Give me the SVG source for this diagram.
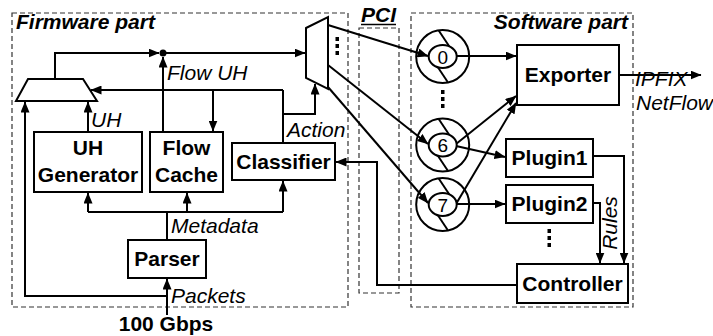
<svg xmlns="http://www.w3.org/2000/svg" xmlns:xlink="http://www.w3.org/1999/xlink" width="713" height="336" viewBox="0 0 713 336">
  <style>
    .zone { fill: none; stroke: #333; stroke-width: 1.2; stroke-dasharray: 5 3; }
    .box { fill: #fff; stroke: #000; stroke-width: 2; }
    .wire { fill: none; stroke: #000; stroke-width: 2; }
    .arr { marker-end: url(#head); }
    .b { font-family: "Liberation Sans", Arial, sans-serif; font-size: 21px; font-weight: bold; fill: #000; }
    .bi { font-family: "Liberation Sans", Arial, sans-serif; font-size: 21px; font-weight: bold; font-style: italic; fill: #000; }
    .i { font-family: "Liberation Sans", Arial, sans-serif; font-size: 21px; font-style: italic; fill: #000; }
    .num { font-family: "Liberation Sans", Arial, sans-serif; font-size: 19px; fill: #000; text-anchor: middle; }
    .mid { text-anchor: middle; }
    .dot { fill: #000; }
  </style>
  <defs>
    <marker id="head" markerUnits="userSpaceOnUse" markerWidth="11" markerHeight="9" refX="10.5" refY="4.5" orient="auto">
      <path d="M0,0 L11,4.5 L0,9 z" fill="#000"/>
    </marker>
    <!-- ring buffer symbol: outer ring, inner slot, two divider strokes -->
    <g id="ring">
      <circle cx="0" cy="0" r="26.5" fill="none" stroke="#000" stroke-width="2"/>
      <line x1="-4" y1="-26" x2="7" y2="-9.5" stroke="#000" stroke-width="2"/>
      <line x1="-6" y1="9" x2="5" y2="25.5" stroke="#000" stroke-width="2"/>
      <ellipse cx="0" cy="0" rx="14" ry="11.5" fill="#fff" stroke="#000" stroke-width="2"/>
    </g>
  </defs>

  <rect width="713" height="336" fill="#fff"/>

  <!-- zones -->
  <g id="zones">
    <rect class="zone" x="12" y="13" width="336" height="294"/>
    <text class="bi" x="16" y="29">Firmware part</text>
    <rect class="zone" x="359" y="28" width="40" height="265"/>
    <text class="bi" x="361" y="22">PCI</text>
    <line x1="361" y1="24.5" x2="396" y2="24.5" stroke="#000" stroke-width="1.5"/>
    <rect class="zone" x="411" y="13" width="222" height="294"/>
    <text class="bi" x="628" y="29" text-anchor="end">Software part</text>
  </g>

  <!-- connectors -->
  <g id="connectors">
    <!-- input packets -->
    <path class="wire arr" d="M167,315 V279"/>
    <path class="wire arr" d="M167,296 H25 V102"/>
    <!-- metadata fan-out -->
    <path class="wire" d="M167,240 V212 M88,212 H283"/>
    <path class="wire arr" d="M88,212 V193"/>
    <path class="wire arr" d="M187,212 V193"/>
    <path class="wire arr" d="M283,212 V181"/>
    <!-- UH into left selector -->
    <path class="wire arr" d="M88,132 V102"/>
    <!-- action -->
    <path class="wire" d="M283,143 V90"/>
    <path class="wire arr" d="M283,90 H91"/>
    <path class="wire arr" d="M213,90 V131"/>
    <path class="wire arr" d="M283,114 H315 V84"/>
    <!-- flow UH / selector output -->
    <path class="wire arr" d="M163,132 V57"/>
    <path class="wire arr" d="M55,79 V53 H159"/>
    <path class="wire arr" d="M163,53 H305"/>
    <circle class="dot" cx="163" cy="53" r="3.5"/>
    <!-- DMA channels over PCI -->
    <path class="wire arr" d="M328,25 L428,56"/>
    <path class="wire arr" d="M328,65 L428,144"/>
    <path class="wire arr" d="M328,87 L428,203"/>
    <!-- software side -->
    <path class="wire arr" d="M457,56 H516"/>
    <path class="wire arr" d="M456,144 L516,96"/>
    <path class="wire arr" d="M456,204 L516,103"/>
    <path class="wire arr" d="M456,146 L505,157"/>
    <path class="wire arr" d="M457,204 H505"/>
    <path class="wire arr" d="M619,75 H701"/>
    <path class="wire arr" d="M593,156 H624 V263"/>
    <path class="wire arr" d="M593,203 H600 V263"/>
    <path class="wire arr" d="M517,285 H377 V162 H336"/>
  </g>

  <!-- firmware nodes -->
  <g id="uh-mux">
    <polygon class="box" points="28,79 83,79 97,101 16,101"/>
  </g>
  <g id="uh-generator">
    <rect class="box" x="34" y="132" width="108" height="60"/>
    <text class="b mid" x="88" y="155">UH</text>
    <text class="b mid" x="88" y="182">Generator</text>
  </g>
  <g id="flow-cache">
    <rect class="box" x="150" y="132" width="73" height="60"/>
    <text class="b mid" x="186.5" y="155">Flow</text>
    <text class="b mid" x="186.5" y="182">Cache</text>
  </g>
  <g id="classifier">
    <rect class="box" x="232" y="143" width="103" height="37"/>
    <text class="b mid" x="283.5" y="169">Classifier</text>
  </g>
  <g id="parser">
    <rect class="box" x="128" y="240" width="78" height="38"/>
    <text class="b mid" x="167" y="266">Parser</text>
  </g>
  <g id="channel-demux">
    <polygon class="box" points="306,28 328,17 328,89 306,78"/>
    <rect class="dot" x="335.5" y="37" width="3.5" height="4"/>
    <rect class="dot" x="335.5" y="44" width="3.5" height="4"/>
    <rect class="dot" x="335.5" y="51" width="3.5" height="4"/>
  </g>

  <!-- DMA ring buffers -->
  <g id="ring-0">
    <use xlink:href="#ring" x="442.7" y="56.5"/>
    <text class="num" x="442.7" y="63.5">0</text>
  </g>
  <g id="ring-gap">
    <rect class="dot" x="441" y="90" width="3.5" height="4"/>
    <rect class="dot" x="441" y="97" width="3.5" height="4"/>
    <rect class="dot" x="441" y="104" width="3.5" height="4"/>
  </g>
  <g id="ring-6">
    <use xlink:href="#ring" x="442.7" y="145"/>
    <text class="num" x="442.7" y="152">6</text>
  </g>
  <g id="ring-7">
    <use xlink:href="#ring" x="442.7" y="204.5"/>
    <text class="num" x="442.7" y="211.5">7</text>
  </g>

  <!-- software nodes -->
  <g id="exporter">
    <rect class="box" x="517" y="45" width="102" height="60"/>
    <text class="b mid" x="568" y="82">Exporter</text>
  </g>
  <g id="plugin1">
    <rect class="box" x="506" y="139" width="87" height="38"/>
    <text class="b mid" x="549.5" y="165">Plugin1</text>
  </g>
  <g id="plugin2">
    <rect class="box" x="506" y="185" width="87" height="38"/>
    <text class="b mid" x="549.5" y="211">Plugin2</text>
    <rect class="dot" x="547.5" y="229" width="3.5" height="4"/>
    <rect class="dot" x="547.5" y="236" width="3.5" height="4"/>
    <rect class="dot" x="547.5" y="243" width="3.5" height="4"/>
  </g>
  <g id="controller">
    <rect class="box" x="517" y="264" width="111" height="39"/>
    <text class="b mid" x="572.5" y="291">Controller</text>
  </g>

  <!-- connector labels -->
  <g id="labels">
    <text class="i" x="167" y="80">Flow UH</text>
    <text class="i" x="91" y="127">UH</text>
    <text class="i" x="287" y="137">Action</text>
    <text class="i" x="171" y="233">Metadata</text>
    <text class="i" x="171" y="303">Packets</text>
    <text class="b mid" x="166" y="331">100 Gbps</text>
    <text class="i" x="635" y="86">IPFIX</text>
    <text class="i" x="636" y="110">NetFlow</text>
    <text class="i mid" transform="translate(617,223) rotate(-90)">Rules</text>
  </g>
</svg>
